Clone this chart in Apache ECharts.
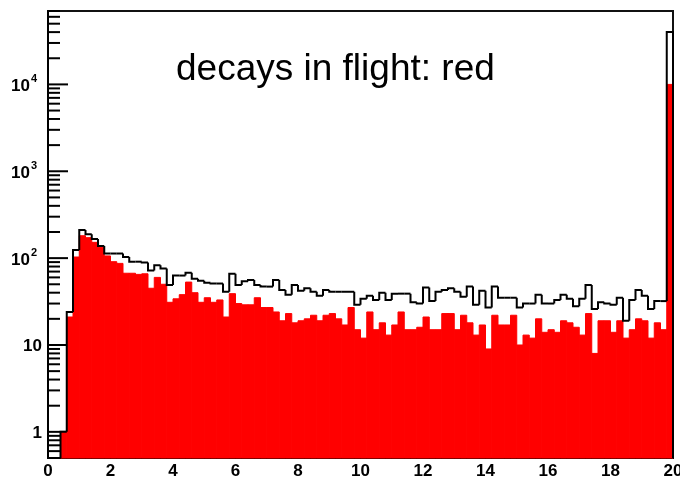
<!DOCTYPE html>
<html>
<head>
<meta charset="utf-8">
<title>decays in flight</title>
<script src="https://cdn.jsdelivr.net/npm/echarts@6/dist/echarts.min.js"></script>
<style>
html,body{margin:0;padding:0;background:#fff;}
#chart{width:680px;height:478px;}
</style>
</head>
<body>
<div id="chart"></div>
<script>
// histogram: 100 bins of 0.2 from 0 to 20
var binWidth=0.2;
var binCount=100;

// all entries (black outline)
var totals=[0,0,1,24,124,211,188,166,138,113,
	113,113,103,91,91,89,72,83,76,49,
	63,63,68,58,55,52,51,51,41,66,
	49,54,56,49,47,47,56,43,38,49,
	42,45,41,37,43,41,41,41,41,29,
	34,37,33,40,33,39,39,39,31,30,
	46,32,41,43,45,41,36,47,29,42,
	27,47,35,35,35,27,30,30,38,30,
	30,33,38,34,28,34,49,26,31,30,
	29,35,19,33,43,37,26,32,32,40000];

// decays in flight (red fill)
var decays=[0,0,1,21,103,181,172,152,133,106,
	91,87,67,67,65,66,45,60,50,31,
	34,38,53,40,31,35,31,33,21,39,
	30,29,29,35,27,27,24,19,23,18,
	19,20,22,19,22,23,20,17,27,15,
	12,24,15,18,13,17,24,15,15,16,
	21,15,15,23,23,15,22,18,13,17,
	9,22,17,17,22,10,13,12,20,14,
	15,14,19,18,16,13,23,8,19,19,
	14,19,12,15,20,19,12,18,15,10000];

// y axis labels (log)
var yLabelVals=[1,10,100,1000,10000];
var yLabelBase=['1','10','10','10','10'];
var yLabelExp=['','','2','3','4'];

var yMin=0.5;
var yMax=70000;

var labelFont='"Liberation Sans", Arial, sans-serif';

//bin low edges
var binLow=[];
for(var i=0;i<binCount;i++){
	binLow.push(Math.round(i*binWidth*10)/10);
}

//tick positions: majors at decades, minors at 2..9
var tickVals=[];
var decade=[0.1,1,10,100,1000,10000];
for(var d=0;d<decade.length;d++){
	for(var m=1;m<10;m++){
		var v=decade[d]*m;
		if(v>=yMin&&v<=yMax){
			tickVals.push([0,v,m==1?1:0]);
		}
	}
}

var redData=[],blackData=[];
for(var j=0;j<binCount;j++){
	redData.push([binLow[j],decays[j]]);
	blackData.push([binLow[j],totals[j]]);
}

var chart=echarts.init(document.getElementById('chart'));

function barItem(params,api){
	var v=api.value(1);
	if(!(v>0)) return null;
	var cs=params.coordSys;
	var bottom=cs.y+cs.height;
	var x0=api.value(0);
	var p0=api.coord([x0,v]);
	var p1=api.coord([x0+binWidth,v]);
	return {
		type:'rect',
		shape:{x:p0[0],y:p0[1],width:p1[0]-p0[0],height:bottom-p0[1]},
		style:{fill:'#ff0000',stroke:'#ff0000',lineWidth:1}
	};
}

function outlineItem(params,api){
	var i=params.dataIndex;
	var cs=params.coordSys;
	var bottom=cs.y+cs.height;
	var x0=api.value(0);
	var v=api.value(1);
	var prev=i>0?totals[i-1]:0;
	function yOf(val){
		return val>0?api.coord([x0,val])[1]:bottom;
	}
	var xa=api.coord([x0,1])[0];
	var xb=api.coord([x0+binWidth,1])[0];
	var pts=[[xa,yOf(prev)],[xa,yOf(v)],[xb,yOf(v)]];
	if(i==binCount-1) pts.push([xb,bottom]);
	return {
		type:'polyline',
		shape:{points:pts},
		style:{stroke:'#000',lineWidth:2,fill:null}
	};
}

function tickItem(params,api){
	var p=api.coord([0,api.value(1)]);
	var len=api.value(2)==1?20:12;
	return {
		type:'line',
		shape:{x1:p[0],y1:p[1],x2:p[0]+len,y2:p[1]},
		style:{stroke:'#000',lineWidth:2}
	};
}

function labelItem(params,api){
	var i=params.dataIndex;
	var p=api.coord([0,api.value(1)]);
	if(yLabelExp[i]==''){
		return {
			type:'text',
			x:p[0]-6,y:p[1]+1,
			style:{text:yLabelBase[i],fill:'#000',font:'bold 17px '+labelFont,align:'right',verticalAlign:'middle'}
		};
	}
	return {
		type:'group',
		children:[
			{type:'text',x:p[0]-18,y:p[1]+2,
				style:{text:yLabelBase[i],fill:'#000',font:'bold 17px '+labelFont,align:'right',verticalAlign:'middle'}},
			{type:'text',x:p[0]-17,y:p[1]-5,
				style:{text:yLabelExp[i],fill:'#000',font:'bold 11px '+labelFont,align:'left',verticalAlign:'middle'}}
		]
	};
}

var option={
	animation:false,
	backgroundColor:'#fff',
	grid:{
		left:48,right:7,top:11,bottom:20,
		show:true,borderColor:'#111',borderWidth:2,
		outerBoundsMode:'none'
	},
	xAxis:{
		type:'value',min:0,max:20,interval:2,
		axisLine:{lineStyle:{color:'#000',width:2}},
		axisTick:{show:false},
		splitLine:{show:false},
		axisLabel:{color:'#000',fontSize:17,fontWeight:'bold',fontFamily:labelFont,margin:5}
	},
	yAxis:{
		type:'log',logBase:10,min:yMin,max:yMax,
		axisLine:{show:true,lineStyle:{color:'#000',width:2}},
		axisTick:{show:false},
		axisLabel:{show:false},
		splitLine:{show:false}
	},
	graphic:[{
		type:'text',left:176,top:51,
		style:{text:'decays in flight: red',fill:'#000',font:'37px '+labelFont}
	}],
	series:[
		{type:'custom',name:'ticks',renderItem:tickItem,data:tickVals,z:1,silent:true},
		{type:'custom',name:'labels',renderItem:labelItem,data:yLabelVals.map(function(v){return [0,v];}),z:1,silent:true},
		{type:'custom',name:'decays',renderItem:barItem,data:redData,z:2,silent:true},
		{type:'custom',name:'all',renderItem:outlineItem,data:blackData,z:3,silent:true}
	]
};
chart.setOption(option);
</script>
</body>
</html>
